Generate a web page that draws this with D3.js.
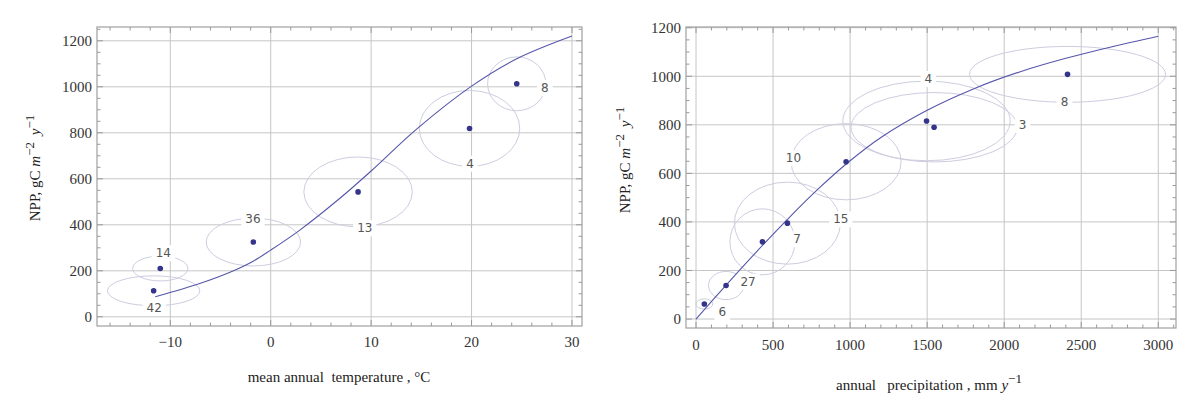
<!DOCTYPE html>
<html>
<head>
<meta charset="utf-8">
<script src="https://cdn.jsdelivr.net/npm/d3@7"></script>
<style>
  body { margin: 0; background: #fff; }
  svg { display: block; }
</style>
</head>
<body>
<svg id="chart" width="1200" height="407"></svg>
<script>
// ---- temperature panel (left) ----
const tempX = [-11.66, -11.0, -1.73, 8.7, 19.8, 24.5];
const tempY = [113, 210, 325, 543, 819, 1013];
const tempSdX = [4.6, 2.75, 4.7, 5.4, 5.0, 2.9];
const tempSdY = [65, 54, 104, 152, 165, 117];
const tempN = ["42", "14", "36", "13", "4", "8"];
const tempLabelX = [-11.6, -10.7, -1.77, 9.37, 19.85, 27.3];
const tempLabelY = [41, 278, 425, 386, 667, 996];
const tempFitX = [-11.5, -7, -4, -1.7, 0, 2.9, 6.8, 10, 14.5, 20, 24.5, 30];
const tempFitY = [87, 146, 195, 243, 290, 377, 512, 634, 815, 1003, 1122, 1221];
const tempTicks = [-10, 0, 10, 20, 30];

// ---- precipitation panel (right) ----
const precX = [54, 195, 431, 593, 974, 1496, 1545, 2411];
const precY = [62, 138, 318, 395, 648, 816, 790, 1008];
const precSdX = [55, 115, 211, 344, 357, 543, 539, 636];
const precSdY = [21, 58, 136, 169, 157, 164, 143, 115];
const precN = ["6", "27", "7", "15", "10", "4", "3", "8"];
const precLabelX = [171, 338, 656, 940, 632, 1508, 2119, 2392];
const precLabelY = [29, 155, 330, 412, 664, 990, 801, 897];
const precFitX = [0, 200, 400, 600, 800, 1000, 1200, 1500, 1800, 2100, 2400, 2700, 3000];
const precFitY = [0, 143, 282, 415, 540, 652, 748, 860, 948, 1018, 1074, 1122, 1165];
const precTicks = [0, 500, 1000, 1500, 2000, 2500, 3000];

const nppTicks = [0, 200, 400, 600, 800, 1000, 1200];

const svg = d3.select("#chart");
svg.append("rect").attr("width", 1200).attr("height", 407).attr("fill", "#fff");

const serif = "'Liberation Serif', 'DejaVu Serif', serif";

function drawPanel(p) {
  const x = d3.scaleLinear().domain(p.xDomain).range([p.left, p.right]);
  const y = d3.scaleLinear().domain(p.yDomain).range([p.bottom, p.top]);
  const g = svg.append("g");

  // grid lines
  g.append("g").selectAll("line").data(p.xTicks).join("line")
    .attr("x1", d => x(d)).attr("x2", d => x(d))
    .attr("y1", p.top).attr("y2", p.bottom)
    .attr("stroke", "#c6c6c6").attr("stroke-width", 1);
  g.append("g").selectAll("line").data(nppTicks).join("line")
    .attr("x1", p.left).attr("x2", p.right)
    .attr("y1", d => y(d)).attr("y2", d => y(d))
    .attr("stroke", "#c6c6c6").attr("stroke-width", 1);

  // ticks, inside the frame on all four sides
  const xMinor = d3.range(p.xMinor[0], p.xMinor[1] + 0.001, p.xMinor[2]);
  const yMinor = d3.range(0, p.yDomain[1], 50);
  const tk = g.append("g").attr("stroke", "#999").attr("stroke-width", 1);
  xMinor.forEach(v => {
    const len = p.xTicks.includes(v) ? 6 : 3.5;
    tk.append("line").attr("x1", x(v)).attr("x2", x(v)).attr("y1", p.bottom).attr("y2", p.bottom - len);
    tk.append("line").attr("x1", x(v)).attr("x2", x(v)).attr("y1", p.top).attr("y2", p.top + len);
  });
  yMinor.forEach(v => {
    const len = nppTicks.includes(v) ? 6 : 3.5;
    tk.append("line").attr("y1", y(v)).attr("y2", y(v)).attr("x1", p.left).attr("x2", p.left + len);
    tk.append("line").attr("y1", y(v)).attr("y2", y(v)).attr("x1", p.right).attr("x2", p.right - len);
  });

  // frame
  g.append("rect")
    .attr("x", p.left).attr("y", p.top)
    .attr("width", p.right - p.left).attr("height", p.bottom - p.top)
    .attr("fill", "none").attr("stroke", "#a0a0a0").attr("stroke-width", 1.2);

  // error ellipses
  g.append("g").selectAll("ellipse").data(p.px).join("ellipse")
    .attr("cx", (d, i) => x(d))
    .attr("cy", (d, i) => y(p.py[i]))
    .attr("rx", (d, i) => x(d + p.sdx[i]) - x(d))
    .attr("ry", (d, i) => y(p.py[i]) - y(p.py[i] + p.sdy[i]))
    .attr("fill", "none").attr("stroke", "#cdcde0").attr("stroke-width", 1);

  // count labels with white backing
  const lab = g.append("g");
  p.n.forEach((t, i) => {
    const lg = lab.append("g");
    const bg = lg.append("rect").attr("fill", "#fff");
    const txt = lg.append("text")
      .attr("x", x(p.lx[i])).attr("y", y(p.ly[i]))
      .attr("dy", "0.36em")
      .attr("text-anchor", "middle")
      .attr("font-family", "'DejaVu Sans', sans-serif")
      .attr("font-size", 12).attr("fill", "#555")
      .text(t);
    const b = txt.node().getBBox();
    bg.attr("x", b.x - 4).attr("y", b.y - 1).attr("width", b.width + 8).attr("height", b.height + 2);
  });

  // fitted curve
  const line = d3.line().x(d => x(d[0])).y(d => y(d[1])).curve(d3.curveCatmullRom.alpha(0.5));
  g.append("path")
    .datum(p.fx.map((v, i) => [v, p.fy[i]]))
    .attr("d", line)
    .attr("fill", "none").attr("stroke", "#5656aa").attr("stroke-width", 1.1);

  // points
  g.append("g").selectAll("circle").data(p.px).join("circle")
    .attr("cx", d => x(d)).attr("cy", (d, i) => y(p.py[i]))
    .attr("r", 2.8).attr("fill", "#34348a");

  // tick labels
  g.append("g").selectAll("text").data(nppTicks).join("text")
    .attr("x", p.left - 5).attr("y", d => y(d)).attr("dy", "0.35em")
    .attr("text-anchor", "end")
    .attr("font-family", serif).attr("font-size", 15).attr("fill", "#333")
    .text(d => d);
  g.append("g").selectAll("text").data(p.xTicks).join("text")
    .attr("x", d => x(d)).attr("y", p.bottom + p.xLabelGap)
    .attr("text-anchor", "middle")
    .attr("font-family", serif).attr("font-size", 15).attr("fill", "#333")
    .text(d => d < 0 ? "\u2212" + Math.abs(d) : d);

  // y title
  const yt = g.append("text")
    .attr("transform", `translate(${p.yTitleX},${p.yTitleY}) rotate(-90)`)
    .attr("text-anchor", "middle")
    .attr("font-family", serif).attr("font-size", 15).attr("fill", "#222");
  yt.append("tspan").text("NPP, gC ");
  yt.append("tspan").attr("font-style", "italic").text("m");
  yt.append("tspan").attr("dy", -6).attr("font-size", 13).text("\u22122");
  yt.append("tspan").attr("dy", 6).text("\u2009 ");
  yt.append("tspan").attr("font-style", "italic").text("y");
  yt.append("tspan").attr("dy", -6).attr("font-size", 13).text("\u22121");

  // x title
  const xt = g.append("text")
    .attr("x", p.xTitleX).attr("y", p.xTitleY)
    .attr("text-anchor", "middle")
    .attr("font-family", serif).attr("font-size", 15).attr("fill", "#222")
    .style("white-space", "pre");
  p.xTitle(xt);
}

drawPanel({
  left: 97, right: 582, top: 27, bottom: 326,
  xDomain: [-17.3, 31], yDomain: [-40, 1260],
  xTicks: tempTicks, xMinor: [-16, 30, 2],
  px: tempX, py: tempY, sdx: tempSdX, sdy: tempSdY,
  n: tempN, lx: tempLabelX, ly: tempLabelY,
  fx: tempFitX, fy: tempFitY,
  xLabelGap: 21,
  yTitleX: 40, yTitleY: 168,
  xTitleX: 339, xTitleY: 382,
  xTitle: t => t.text("mean annual  temperature , \u00b0C")
});

drawPanel({
  left: 686, right: 1176, top: 27, bottom: 328,
  xDomain: [-65, 3115], yDomain: [-37, 1203],
  xTicks: precTicks, xMinor: [0, 3100, 100],
  px: precX, py: precY, sdx: precSdX, sdy: precSdY,
  n: precN, lx: precLabelX, ly: precLabelY,
  fx: precFitX, fy: precFitY,
  xLabelGap: 22,
  yTitleX: 630, yTitleY: 160,
  xTitleX: 929, xTitleY: 390,
  xTitle: t => {
    t.append("tspan").text("annual   precipitation , mm ");
    t.append("tspan").attr("font-style", "italic").text("y");
    t.append("tspan").attr("dy", -7).attr("font-size", 13).text("\u22121");
  }
});
</script>
</body>
</html>
